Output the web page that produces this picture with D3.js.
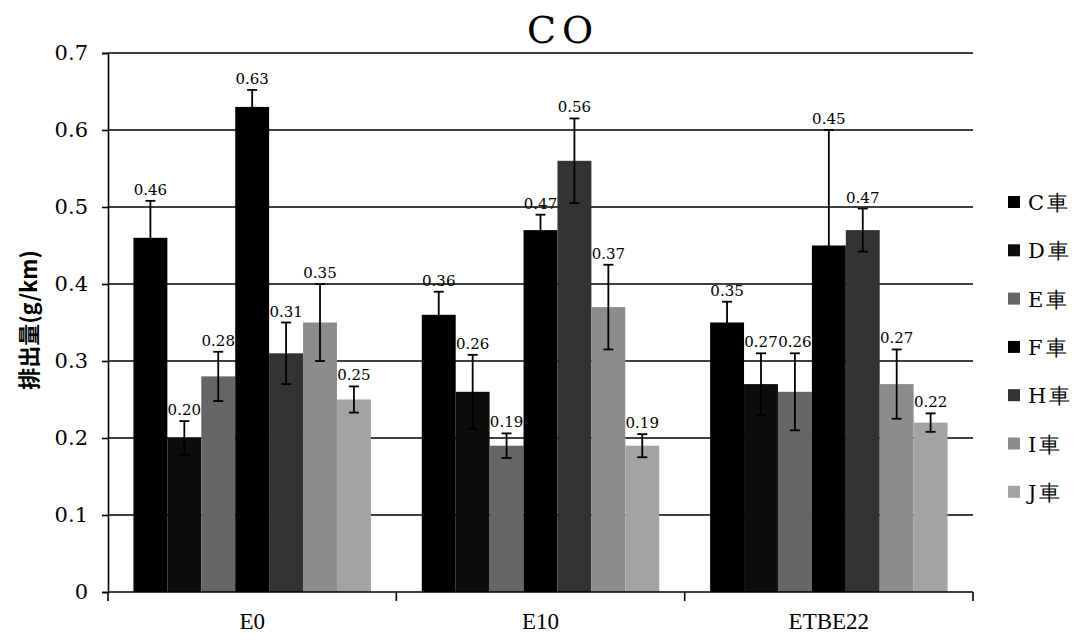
<!DOCTYPE html>
<html>
<head>
<meta charset="utf-8">
<script src="https://cdn.jsdelivr.net/npm/d3@7"></script>
<style>
  body { margin: 0; background: #fff; }
  svg { display: block; }
</style>
</head>
<body>
<div id="chart"></div>
<script>
// data
var groups = ["E0", "E10", "ETBE22"];
var cars = ["C車", "D車", "E車", "F車", "H車", "I車", "J車"];
var valuesE0 = [0.46, 0.20, 0.28, 0.63, 0.31, 0.35, 0.25];
var valuesE10 = [0.36, 0.26, 0.19, 0.47, 0.56, 0.37, 0.19];
var valuesETBE22 = [0.35, 0.27, 0.26, 0.45, 0.47, 0.27, 0.22];
var errE0 = [0.048, 0.022, 0.032, 0.022, 0.04, 0.05, 0.017];
var errE10 = [0.03, 0.048, 0.016, 0.02, 0.055, 0.055, 0.015];
var errETBE22 = [0.027, 0.04, 0.05, 0.15, 0.028, 0.045, 0.012];
var yTicks = [0, 0.1, 0.2, 0.3, 0.4, 0.5, 0.6, 0.7];
var fills = ["#000", "#0d0d0d", "#666", "#000", "#333", "#8c8c8c", "#a3a3a3"];

var allValues = [valuesE0, valuesE10, valuesETBE22];
var allErr = [errE0, errE10, errETBE22];

var W = 1082, H = 643;
var plotLeft = 108, plotRight = 973, plotTop = 53, plotBottom = 592;
var serif = "'DejaVu Serif', 'Liberation Serif', serif";

var svg = d3.select("#chart").append("svg")
  .attr("width", W)
  .attr("height", H);

var x0 = d3.scaleBand()
  .domain(groups)
  .range([plotLeft, plotRight])
  .padding(0);

var x1 = d3.scaleBand()
  .domain(cars)
  .range([0, x0.bandwidth()])
  .paddingInner(0)
  .paddingOuter(0.75);

var y = d3.scaleLinear()
  .domain([0, 0.7])
  .range([plotBottom, plotTop]);

// grid lines
svg.append("g")
  .selectAll("line")
  .data(yTicks.filter(function(d) { return d > 0; }))
  .enter().append("line")
  .attr("x1", plotLeft).attr("x2", plotRight)
  .attr("y1", function(d) { return y(d); })
  .attr("y2", function(d) { return y(d); })
  .attr("stroke", "#000")
  .attr("stroke-width", 1.6);

// bars
var rows = [];
groups.forEach(function(g, gi) {
  cars.forEach(function(c, ci) {
    rows.push({group: g, car: c, ci: ci, v: allValues[gi][ci], e: allErr[gi][ci]});
  });
});

var bar = svg.append("g").selectAll("g")
  .data(rows)
  .enter().append("g")
  .attr("transform", function(d) { return "translate(" + (x0(d.group) + x1(d.car)) + ",0)"; });

bar.append("rect")
  .attr("x", 0)
  .attr("width", x1.bandwidth())
  .attr("y", function(d) { return y(d.v); })
  .attr("height", function(d) { return y(0) - y(d.v); })
  .attr("fill", function(d) { return fills[d.ci]; });

// error bars
var bw = x1.bandwidth(), cap = 5;
bar.append("line")
  .attr("x1", bw / 2).attr("x2", bw / 2)
  .attr("y1", function(d) { return y(d.v - d.e); })
  .attr("y2", function(d) { return y(d.v + d.e); })
  .attr("stroke", "#000").attr("stroke-width", 1.8);
bar.append("line")
  .attr("x1", bw / 2 - cap).attr("x2", bw / 2 + cap)
  .attr("y1", function(d) { return y(d.v + d.e); })
  .attr("y2", function(d) { return y(d.v + d.e); })
  .attr("stroke", "#000").attr("stroke-width", 1.8);
bar.append("line")
  .attr("x1", bw / 2 - cap).attr("x2", bw / 2 + cap)
  .attr("y1", function(d) { return y(d.v - d.e); })
  .attr("y2", function(d) { return y(d.v - d.e); })
  .attr("stroke", "#000").attr("stroke-width", 1.8);

// value labels
bar.append("text")
  .attr("x", bw / 2)
  .attr("y", function(d) { return y(d.v + d.e) - 6; })
  .attr("text-anchor", "middle")
  .attr("font-family", serif)
  .attr("font-size", 15)
  .attr("fill", "#000")
  .text(function(d) { return d.v.toFixed(2); });

// y axis
var yAxis = svg.append("g")
  .attr("transform", "translate(" + plotLeft + ",0)")
  .call(d3.axisLeft(y).tickValues(yTicks).tickSize(6).tickPadding(14)
    .tickFormat(function(d) { return d === 0 ? "0" : d3.format(".1f")(d); }));
yAxis.select(".domain").attr("stroke-width", 1.6);
yAxis.selectAll(".tick line").attr("stroke-width", 1.6);
yAxis.selectAll("text")
  .attr("font-family", serif)
  .attr("font-size", 21)
  .attr("fill", "#000");

// x axis
var xAxis = svg.append("g")
  .attr("transform", "translate(0," + plotBottom + ")");
xAxis.append("line")
  .attr("x1", plotLeft).attr("x2", plotRight)
  .attr("stroke", "#000").attr("stroke-width", 1.6);
xAxis.selectAll("line.tk")
  .data(groups.map(function(g) { return x0(g); }).concat([plotRight]))
  .enter().append("line")
  .attr("class", "tk")
  .attr("x1", function(d) { return d; }).attr("x2", function(d) { return d; })
  .attr("y1", 0).attr("y2", 9)
  .attr("stroke", "#000").attr("stroke-width", 1.6);
xAxis.selectAll("text")
  .data(groups)
  .enter().append("text")
  .attr("x", function(d) { return x0(d) + x0.bandwidth() / 2; })
  .attr("y", 37)
  .attr("text-anchor", "middle")
  .attr("font-family", "'Liberation Serif', serif")
  .attr("font-size", 23)
  .attr("fill", "#000")
  .text(function(d) { return d; });

// title
svg.append("text")
  .attr("x", 563)
  .attr("y", 43)
  .attr("text-anchor", "middle")
  .attr("font-family", serif)
  .attr("font-size", 38)
  .attr("letter-spacing", 6)
  .text("CO");

// y title
svg.append("text")
  .attr("transform", "translate(37,320) rotate(-90)")
  .attr("text-anchor", "middle")
  .attr("font-family", "'Noto Sans CJK JP', sans-serif")
  .attr("font-weight", "bold")
  .attr("font-size", 22)
  .text("排出量(g/km)");

// legend
var legend = svg.append("g").selectAll("g")
  .data(cars)
  .enter().append("g")
  .attr("transform", function(d, i) { return "translate(1008," + (202 + i * 48.3) + ")"; });
legend.append("rect")
  .attr("x", 0).attr("y", -6)
  .attr("width", 12).attr("height", 12)
  .attr("fill", function(d, i) { return fills[i]; });
legend.append("text")
  .attr("x", 20)
  .attr("y", 8)
  .attr("font-family", serif)
  .attr("font-size", 21)
  .attr("letter-spacing", 3)
  .text(function(d) { return d; });
</script>
</body>
</html>
